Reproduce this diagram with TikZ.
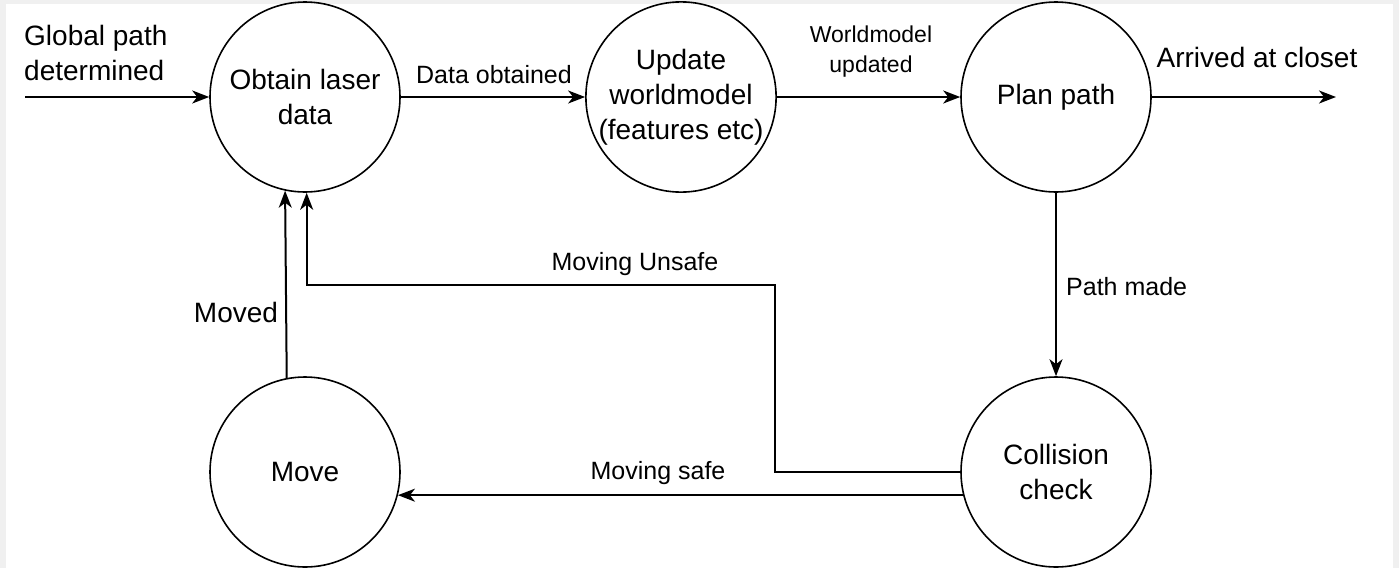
\documentclass[tikz,border=0pt]{standalone}
\usepackage{fontspec}
\setmainfont{Liberation Sans}
\usetikzlibrary{arrows.meta,calc}
\begin{document}
\begin{tikzpicture}[x=1pt,y=-1pt,
  state/.style={draw, line width=1.6pt, circle, minimum size=190pt, inner sep=0pt, align=center, font=\fontsize{28}{35}\selectfont},
  conn/.style={line width=2pt, -{Stealth[length=17pt,width=13pt,inset=5pt]}},
  lbl/.style={inner sep=0pt, align=center, font=\fontsize{28}{35}\selectfont},
  slbl/.style={inner sep=0pt, align=center, font=\fontsize{25}{30}\selectfont}]
\fill[black!6] (0,0) rectangle (1399,568);
\fill[white] (6,4) rectangle (1393,568);
\useasboundingbox (0,0) rectangle (1399,568);

\node[state] (obtain) at (305,97) {Obtain laser\\data};
\node[state] (update) at (681,97) {Update\\worldmodel\\(features etc)};
\node[state] (plan) at (1056,97) {Plan path};
\node[state] (move) at (305,472) {Move};
\node[state] (coll) at (1056,472) {Collision\\check};

\coordinate (gstart) at (25,97);
\coordinate (aend) at (1336,97);
\coordinate (bend) at (775,285);

\draw[conn] (gstart) -- (obtain.west);
\draw[conn] (obtain.east) -- (update.west);
\draw[conn] (update.east) -- (plan.west);
\draw[conn] (plan.east) -- (aend);
\draw[conn] (plan.south) -- (coll.north);
\draw[conn] (coll.194) -- (move.346);
\draw[conn] (coll.west) -| (bend) -| (obtain.271);
\draw[conn] (move.101.5) -- (obtain.258.5);

\node[lbl, align=left, anchor=west] (lglobal) at (24,53) {Global path\\determined};
\node[slbl] (ldata) at (494,75) {Data obtained};
\node[inner sep=0pt, align=center, font=\fontsize{23}{30}\selectfont] (lworld) at (871,52) {Worldmodel\\updated};
\node[lbl] (larrived) at (1257,57) {Arrived at closet};
\node[slbl, anchor=west] (lpath) at (1066,287) {Path made};
\node[slbl] (lunsafe) at (635,264) {Moving Unsafe};
\node[slbl] (lsafe) at (658,473) {Moving safe};
\node[lbl] (lmoved) at (236,312) {Moved};
\end{tikzpicture}
\end{document}
